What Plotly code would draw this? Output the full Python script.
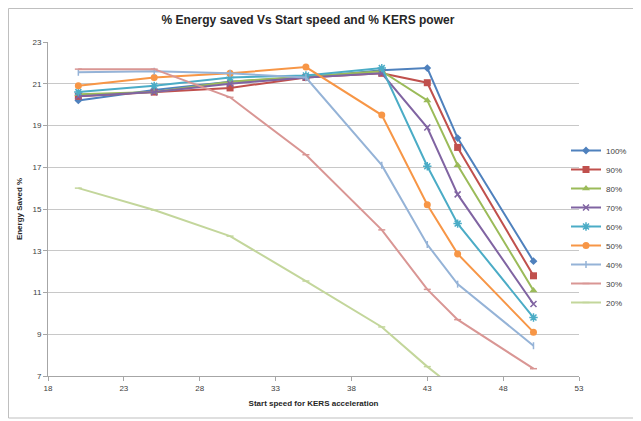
import plotly.graph_objects as go

speeds = [20, 25, 30, 35, 40, 43, 45, 50]
series_names = ["100%", "90%", "80%", "70%", "60%", "50%", "40%", "30%", "20%"]
s100 = [20.2, 20.7, 21.1, 21.3, 21.65, 21.75, 18.4, 12.5]
s90 = [20.4, 20.6, 20.8, 21.3, 21.5, 21.05, 17.95, 11.8]
s80 = [20.5, 20.6, 21.1, 21.35, 21.6, 20.2, 17.1, 11.1]
s70 = [20.4, 20.6, 21.0, 21.3, 21.5, 18.9, 15.7, 10.45]
s60 = [20.6, 20.9, 21.3, 21.4, 21.75, 17.05, 14.3, 9.8]
s50 = [20.9, 21.3, 21.5, 21.8, 19.5, 15.2, 12.85, 9.1]
s40 = [21.55, 21.6, 21.5, 21.3, 17.1, 13.3, 11.4, 8.45]
s30 = [21.7, 21.7, 20.35, 17.6, 14.0, 11.15, 9.7, 7.35]
s20 = [16.0, 14.95, 13.7, 11.55, 9.35, 7.45, 6.3, 4.0]
values = [s100, s90, s80, s70, s60, s50, s40, s30, s20]

colors = ["#4F81BD", "#C0504D", "#9BBB59", "#8064A2", "#4BACC6", "#F79646",
          "#95B3D7", "#D99694", "#C3D69B"]
symbols = ["diamond", "square", "triangle-up", "x-thin", "asterisk", "circle",
           "line-ns", "line-ew", "line-ew"]
msizes = [6, 7, 7, 6, 7, 7, 5, 5, 5]

# page has an 8px body margin; figure occupies page pixels 8..641, 8..421
OFF = 8
W, H = 641 - OFF, 421 - OFF
ml, mt = 48 - OFF, 42 - OFF
mr = W - (579 - OFF)
mb = H - (376 - OFF)
pw, ph = W - ml - mr, H - mt - mb

fig = go.Figure()
for name, vals, c, sym, ms in zip(series_names, values, colors, symbols, msizes):
    thin = sym in ("x-thin", "asterisk", "line-ns", "line-ew")
    fig.add_trace(go.Scatter(
        x=speeds, y=vals, name=name, mode="lines+markers",
        line=dict(color=c, width=2),
        marker=dict(symbol=sym, size=ms, color=c,
                    line=dict(color=c, width=1.5 if thin else 0)),
    ))

def pxx(p):  # page pixel -> paper x
    return (p - OFF - ml) / pw

def pxy(p):  # page pixel -> paper y
    return (H - mb - (p - OFF)) / ph

fig.add_shape(type="rect", xref="paper", yref="paper",
              x0=pxx(OFF + 0.5), x1=pxx(637),
              y0=pxy(418), y1=pxy(OFF + 0.5),
              line=dict(color="#BFBFBF", width=1), layer="below")

fig.update_layout(
    width=W, height=H,
    margin=dict(l=ml, r=mr, t=mt, b=mb, autoexpand=False),
    paper_bgcolor="white", plot_bgcolor="white",
    font=dict(family="Liberation Sans, Arial, sans-serif", size=8, color="#404040"),
    title=dict(text="<b>% Energy saved Vs Start speed and % KERS power</b>",
               xref="container", x=(308 - OFF) / W, xanchor="center",
               yref="container", y=1 - (20 - OFF) / H, yanchor="middle",
               font=dict(size=12, color="#262626")),
    showlegend=True,
    legend=dict(xref="container", x=(566 - OFF) / W, xanchor="left",
                yref="container", y=1 - (136 - OFF) / H, yanchor="top",
                font=dict(size=8, color="#404040"), tracegroupgap=0,
                itemwidth=30, bgcolor="rgba(0,0,0,0)"),
    xaxis=dict(range=[18, 53], tick0=18, dtick=5, showgrid=False,
               showline=True, linecolor="#A6A6A6", linewidth=1,
               ticks="outside", ticklen=4, tickcolor="#A6A6A6",
               zeroline=False,
               title=dict(text="<b>Start speed for KERS acceleration</b>",
                          font=dict(size=8, color="#262626"), standoff=8)),
    yaxis=dict(range=[7, 23], tick0=7, dtick=2, showgrid=True,
               gridcolor="#C8C8C8", gridwidth=1,
               showline=True, linecolor="#A6A6A6", linewidth=1,
               ticks="outside", ticklen=4, tickcolor="#A6A6A6",
               zeroline=False,
               title=dict(text="<b>Energy Saved %</b>",
                          font=dict(size=8, color="#262626"), standoff=8)),
)

fig.write_html("out.html")
